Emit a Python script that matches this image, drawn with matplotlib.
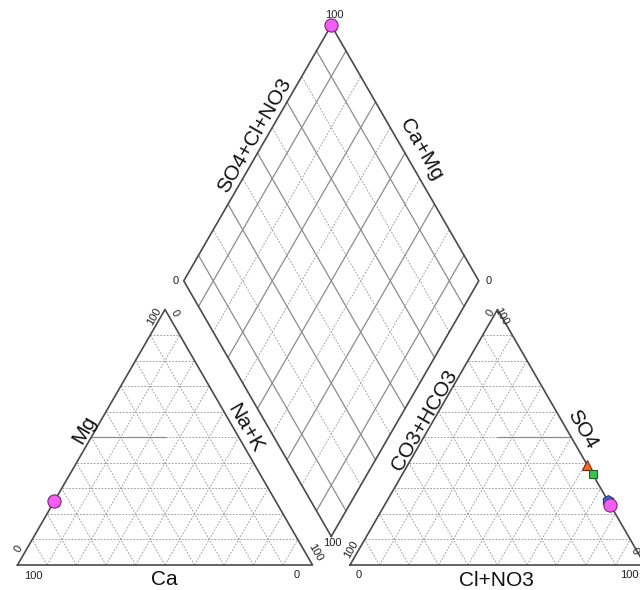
import numpy as np
import matplotlib.pyplot as plt

plt.rcParams['font.family'] = ['Liberation Sans', 'DejaVu Sans']

# Ion percentages (meq %) per sample
ca = [75, 75, 75, 75]
mg = [25, 25, 25, 25]
na_k = [0, 0, 0, 0]
cl_no3 = [61, 64.5, 75, 76.5]
so4 = [39, 35.5, 25, 23.5]
co3_hco3 = [0, 0, 0, 0]

markers = ['^', 's', 'h', 'o']
sizes = [7, 6, 8.5, 9.5]
colors = ['#f0691e', '#3ec24c', '#4462e6', '#f25ef2']
edges = ['#7a3010', '#1d6028', '#22347a', '#7a2a7a']

# layout of the three panels (triangle side = 1)
h = np.sqrt(3) / 2
gap = 0.127
off = 1 + gap                    # left x of the anion triangle
dbx, dby = 1 + gap / 2, 0.097    # bottom vertex of the diamond

border_kw = dict(color='#4a4a4a', lw=1.2, zorder=3)
dash_kw = dict(color='#9c9c9c', lw=0.65, ls=(0, (2, 1.6)), zorder=1)
solid_kw = dict(color='#8c8c8c', lw=0.9, zorder=2)


def draw_triangle(ax, x0):
    for k in range(1, 10):
        t = k / 10
        ax.plot([x0 + t / 2, x0 + 1 - t / 2], [t * h, t * h], **dash_kw)
        ax.plot([x0 + t, x0 + t + (1 - t) / 2], [0, (1 - t) * h], **dash_kw)
        ax.plot([x0 + t, x0 + t / 2], [0, t * h], **dash_kw)
    ax.plot([x0, x0 + 1, x0 + 0.5, x0], [0, 0, h, 0], **border_kw)


def diamond_xy(c, s):
    # c = (Ca+Mg) fraction, s = (SO4+Cl+NO3) fraction
    return dbx + (s - c) * 0.5, dby + (s + c) * h


fig = plt.figure(figsize=(6.4, 5.9), dpi=100)
ax = fig.add_axes([0, 0, 1, 1])
ax.set_xlim(-0.0593, 2.110)
ax.set_ylim(-0.0847, 1.915)
ax.axis('off')

draw_triangle(ax, 0)
draw_triangle(ax, off)

# field boundaries at 50 %
ax.plot([0.25, 0.5], [0.5 * h, 0.5 * h], **solid_kw)
ax.plot([off + 0.5, off + 0.75], [0.5 * h, 0.5 * h], **solid_kw)

# diamond grid
for k in range(1, 10):
    t = k / 10
    kw = solid_kw if k % 2 else dash_kw
    xa, ya = diamond_xy(t, 0)
    xb, yb = diamond_xy(t, 1)
    ax.plot([xa, xb], [ya, yb], **kw)
    xa, ya = diamond_xy(0, t)
    xb, yb = diamond_xy(1, t)
    ax.plot([xa, xb], [ya, yb], **kw)
corners = [diamond_xy(0, 0), diamond_xy(1, 0), diamond_xy(1, 1), diamond_xy(0, 1), diamond_xy(0, 0)]
ax.plot([p[0] for p in corners], [p[1] for p in corners], **border_kw)

# axis titles
lab = dict(fontsize=15, ha='center', va='center', color='#111111')
ax.text(0.225, 0.458, 'Mg', rotation=60, **lab)
ax.text(0.771, 0.464, 'Na+K', rotation=-60, **lab)
ax.text(0.498, -0.049, 'Ca', **lab)
ax.text(1.378, 0.491, 'CO3+HCO3', rotation=60, **lab)
ax.text(1.913, 0.461, 'SO4', rotation=-60, **lab)
ax.text(1.624, -0.051, 'Cl+NO3', **lab)
ax.text(0.802, 1.456, 'SO4+Cl+NO3', rotation=60, **lab)
ax.text(1.369, 1.407, 'Ca+Mg', rotation=-60, **lab)

# scale end labels
tk = dict(fontsize=8, ha='center', va='center', color='#222222')
ax.text(0.463, 0.841, '100', rotation=60, **tk)
ax.text(0.534, 0.853, '0', rotation=-60, **tk)
ax.text(0.005, 0.054, '0', rotation=60, **tk)
ax.text(0.054, -0.037, '100', **tk)
ax.text(0.946, -0.034, '0', **tk)
ax.text(1.008, 0.041, '100', rotation=-60, **tk)

ax.text(off + 0.475, 0.853, '0', rotation=60, **tk)
ax.text(off + 0.512, 0.842, '100', rotation=-60, **tk)
ax.text(off + 0.005, 0.051, '100', rotation=60, **tk)
ax.text(off + 0.029, -0.034, '0', **tk)
ax.text(2.106, -0.034, '100', fontsize=8, ha='right', va='center', color='#222222')
ax.text(2.093, 0.046, '0', rotation=-60, **tk)

ax.text(dbx + 0.009, dby + 2 * h + 0.035, '100', **tk)
ax.text(dbx - 0.527, dby + h, '0', **tk)
ax.text(dbx + 0.534, dby + h, '0', **tk)
ax.text(dbx + 0.005, dby - 0.024, '100', **tk)

# samples
for i in range(len(ca)):
    tot_c = ca[i] + mg[i] + na_k[i]
    tot_a = cl_no3[i] + so4[i] + co3_hco3[i]
    m_c = mg[i] / tot_c
    n_c = na_k[i] / tot_c
    s_a = so4[i] / tot_a
    c_a = cl_no3[i] / tot_a
    pts = [
        (n_c + m_c / 2, m_c * h),
        (off + c_a + s_a / 2, s_a * h),
        diamond_xy(1 - n_c, 1 - co3_hco3[i] / tot_a),
    ]
    for x, y in pts:
        ax.plot(x, y, marker=markers[i], ms=sizes[i], mfc=colors[i], mec=edges[i],
                mew=0.8, ls='none', zorder=5 + i, clip_on=False)

fig.savefig('out.png', dpi=100)
